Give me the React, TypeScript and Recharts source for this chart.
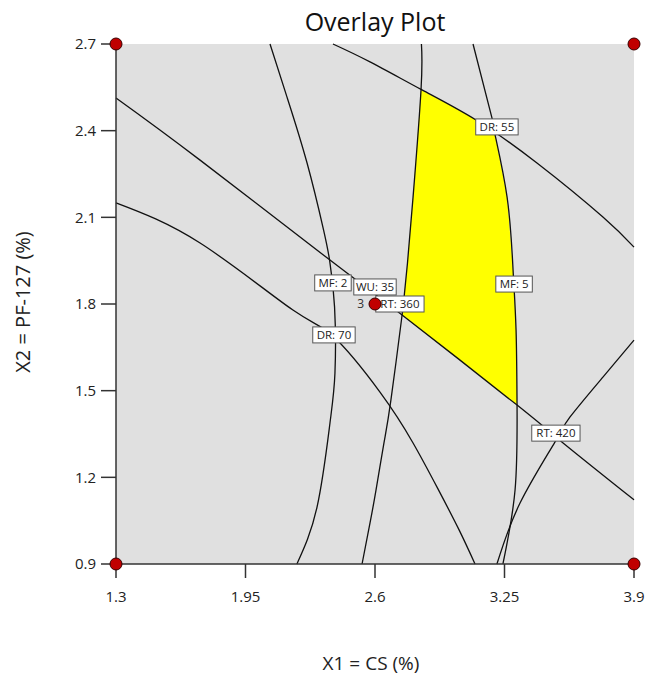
import React from "react";
import {
  ComposedChart,
  Line,
  Area,
  Scatter,
  XAxis,
  YAxis,
  CartesianGrid,
} from "recharts";

type Pair = [number, number];

const xTicks = [1.3, 1.95, 2.6, 3.25, 3.9];
const yTicks = [0.9, 1.2, 1.5, 1.8, 2.1, 2.4, 2.7];

// contour lines, [X1, X2]
const mf2: Pair[] = [
  [2.073, 2.7], [2.158, 2.517], [2.259, 2.288], [2.342, 2.056], [2.372, 1.952],
  [2.397, 1.79], [2.399, 1.561], [2.374, 1.388], [2.309, 1.097], [2.208, 0.9],
];
const mf5: Pair[] = [
  [3.092, 2.7], [3.187, 2.444], [3.202, 2.388], [3.263, 2.17], [3.293, 1.918],
  [3.308, 1.71], [3.313, 1.45], [3.303, 1.156], [3.242, 0.9],
];
const dr55: Pair[] = [
  [2.389, 2.7], [2.575, 2.638], [2.836, 2.541], [3.107, 2.437],
  [3.413, 2.288], [3.744, 2.101], [3.9, 1.997],
];
const dr70: Pair[] = [
  [1.3, 2.15], [1.722, 2.011], [2.188, 1.779], [2.389, 1.689], [2.625, 1.495],
  [2.791, 1.319], [2.916, 1.16], [3.022, 1.018], [3.102, 0.9],
];
const wu35: Pair[] = [
  [1.3, 2.513], [1.722, 2.298], [2.374, 1.952], [2.736, 1.762], [3.313, 1.45],
  [3.544, 1.319], [3.9, 1.122],
];
const rt360: Pair[] = [
  [2.833, 2.7], [2.831, 2.541], [2.791, 2.17], [2.763, 1.942], [2.746, 1.824],
  [2.736, 1.762], [2.68, 1.468], [2.645, 1.319], [2.605, 1.156], [2.575, 1.042],
  [2.535, 0.9],
];
const rt420: Pair[] = [
  [3.212, 0.9], [3.328, 1.111], [3.503, 1.322], [3.579, 1.409], [3.744, 1.547],
  [3.9, 1.675],
];

// yellow sweet spot: lower / upper X2 at each X1
const yellowX = [2.736, 2.746, 2.763, 2.791, 2.831, 2.976, 3.107, 3.202, 3.263, 3.293, 3.308, 3.313];
const yellowLo = [1.762, 1.756, 1.748, 1.732, 1.71, 1.632, 1.562, 1.51, 1.477, 1.461, 1.453, 1.45];
const yellowHi = [1.762, 1.824, 1.942, 2.17, 2.541, 2.489, 2.437, 2.388, 2.17, 1.918, 1.71, 1.45];

// flag labels on the contours
const flagText = ["MF: 2", "WU: 35", "RT: 360", "DR: 70", "DR: 55", "MF: 5", "RT: 420"];
const flagX = [2.389, 2.6, 2.725, 2.394, 3.212, 3.298, 3.508];
const flagY = [1.873, 1.859, 1.8, 1.693, 2.413, 1.869, 1.353];

// design points
const designX = [1.3, 1.3, 3.9, 3.9, 2.6];
const designY = [0.9, 2.7, 0.9, 2.7, 1.8];
const designRuns = ["", "", "", "", "3"];

const toPts = (arr: Pair[]) => arr.map(([x, y]) => ({ x, y }));

const contours = [mf2, mf5, dr55, dr70, wu35, rt360, rt420];

const yellowData = yellowX.map((x, i) => ({ x, range: [yellowLo[i], yellowHi[i]] }));
const flagData = flagX.map((x, i) => ({ x, y: flagY[i], text: flagText[i] }));
const designData = designX.map((x, i) => ({ x, y: designY[i], runs: designRuns[i] }));

const FONT = "'Open Sans', 'Noto Sans', sans-serif";

const FlagShape = (props: any) => {
  const { cx, cy, payload } = props;
  const w = payload.text.length * 5.9 + 7;
  return (
    <g>
      <rect x={cx - w / 2} y={cy - 8} width={w} height={16} fill="#fff" stroke="#555" strokeWidth={1} />
      <text x={cx} y={cy + 4} textAnchor="middle" fontSize={11.5} fill="#222" fontFamily={FONT}>
        {payload.text}
      </text>
    </g>
  );
};

const DesignShape = (props: any) => {
  const { cx, cy, payload } = props;
  return (
    <g>
      {payload.runs && (
        <text x={cx - 11} y={cy + 4} textAnchor="end" fontSize={12} fill="#333" fontFamily={FONT}>
          {payload.runs}
        </text>
      )}
      <circle cx={cx} cy={cy} r={6} fill="#c00000" stroke="#3a0000" strokeWidth={1} />
    </g>
  );
};

const App: React.FC = () => {
  return (
    <div style={{ position: "absolute", left: 0, top: 0, fontFamily: FONT }}>
      <ComposedChart
        width={648}
        height={676}
        margin={{ top: 44, right: 14, bottom: 52, left: 56 }}
      >
        <CartesianGrid fill="#e0e0e0" horizontal={false} vertical={false} />
        <XAxis
          dataKey="x"
          type="number"
          domain={[1.3, 3.9]}
          ticks={xTicks}
          height={60}
          tickSize={14}
          tickMargin={13}
          stroke="#333"
          strokeWidth={1.5}
          tick={{ fill: "#222", fontSize: 15 }}
        />
        <YAxis
          dataKey="y"
          type="number"
          domain={[0.9, 2.7]}
          ticks={yTicks}
          width={60}
          tickSize={15}
          tickMargin={5}
          stroke="#333"
          strokeWidth={1.5}
          tick={{ fill: "#222", fontSize: 15 }}
        />
        <XAxis xAxisId="top" orientation="top" type="number" domain={[1.3, 3.9]} height={0} tick={false} tickLine={false} stroke="#555" strokeWidth={1.5} />
        <YAxis yAxisId="right" orientation="right" type="number" domain={[0.9, 2.7]} width={0} tick={false} tickLine={false} stroke="#555" strokeWidth={1.5} />

        <Area
          data={yellowData}
          dataKey="range"
          type="linear"
          fill="#ffff00"
          fillOpacity={1}
          stroke="none"
          dot={false}
          activeDot={false}
          isAnimationActive={false}
        />
        {contours.map((c, i) => (
          <Line
            key={i}
            data={toPts(c)}
            dataKey="y"
            type="natural"
            stroke="#111"
            strokeWidth={1.3}
            dot={false}
            activeDot={false}
            isAnimationActive={false}
          />
        ))}
        <Scatter data={flagData} dataKey="y" shape={FlagShape} isAnimationActive={false} />
        <Scatter data={designData} dataKey="y" shape={DesignShape} isAnimationActive={false} />

        <text x={375} y={31} textAnchor="middle" fontSize={25} fill="#111" fontFamily={FONT}>
          Overlay Plot
        </text>
        <text x={371} y={670} textAnchor="middle" fontSize={19} fill="#222" fontFamily={FONT}>
          X1 = CS (%)
        </text>
        <text
          x={30}
          y={302}
          textAnchor="middle"
          fontSize={20}
          fill="#222"
          fontFamily={FONT}
          transform="rotate(-90 30 302)"
        >
          X2 = PF-127 (%)
        </text>
      </ComposedChart>
    </div>
  );
};

export default App;
